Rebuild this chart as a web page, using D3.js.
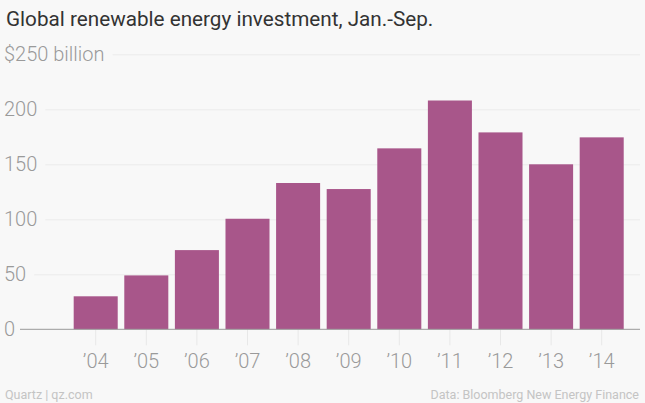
<!DOCTYPE html>
<html>
<head>
<meta charset="utf-8">
<script src="https://cdn.jsdelivr.net/npm/d3@7"></script>
<style>
  html, body { margin: 0; padding: 0; background: #f8f8f8; }
  svg { display: block; }
  text { font-family: Roboto, "Noto Sans", sans-serif; }
</style>
</head>
<body>
<script>
const years = ["’04","’05","’06","’07","’08","’09","’10","’11","’12","’13","’14"];
const investment = [30, 49, 72, 100.5, 133, 127.5, 164.5, 208, 179, 150, 174.5];
const yTicks = [0, 50, 100, 150, 200, 250];

const W = 645, H = 403;
const svg = d3.select("body").append("svg").attr("width", W).attr("height", H);
svg.append("rect").attr("width", W).attr("height", H).attr("fill", "#f8f8f8");

const y = d3.scaleLinear().domain([0, 250]).range([329.3, 54.3]);
const gap = 6.6;
const x = d3.scaleBand().domain(years)
  .range([73.7 - gap / 2, 623.7 + gap / 2])
  .paddingInner(0.13).paddingOuter(0.065);

// Title
svg.append("text").attr("x", 6).attr("y", 25.5)
  .attr("font-size", 20.7).attr("fill", "#333").text("Global renewable energy investment, Jan.-Sep.");

// Gridlines + y labels
const yAxis = d3.axisLeft(y).tickValues(yTicks).tickSize(0)
  .tickFormat(d => d === 250 ? "$250 billion" : d);
const gy = svg.append("g").call(yAxis);
gy.select(".domain").remove();
gy.selectAll(".tick text").attr("x", 4).attr("dy", "0.33em").attr("text-anchor", "start")
  .attr("font-size", 20).attr("font-weight", 300).attr("fill", "#9a9a9a")
  .style("font-family", "Roboto, sans-serif");
gy.selectAll(".tick").each(function(d) {
  const g = d3.select(this);
  const tw = g.select("text").node().getComputedTextLength();
  if (d !== 0) {
    g.append("line").attr("x1", 4 + tw + 8).attr("x2", 640).attr("y1", 0).attr("y2", 0)
      .attr("stroke", "#ebebeb").attr("stroke-width", 1);
  }
});

// X tick marks
const xAxis = d3.axisBottom(x).tickSize(16).tickPadding(14);
const gx = svg.append("g").attr("transform", `translate(0,${y(0)})`).call(xAxis);
gx.select(".domain").remove();
gx.selectAll(".tick line").attr("stroke", "#e8e8e8");
gx.selectAll(".tick text").attr("font-size", 20).attr("font-weight", 300).attr("fill", "#9a9a9a")
  .style("font-family", "Roboto, sans-serif").attr("dy", "0.71em").attr("y", 25);

// Bars
svg.append("g").selectAll("rect").data(investment).join("rect")
  .attr("x", (d, i) => x(years[i]))
  .attr("width", x.bandwidth())
  .attr("y", d => y(d))
  .attr("height", d => y(0) - y(d))
  .attr("fill", "#a8568a");

// Zero axis line
svg.append("line").attr("x1", 20).attr("x2", 640).attr("y1", y(0)).attr("y2", y(0))
  .attr("stroke", "#999").attr("stroke-width", 1);

// Footer
svg.append("text").attr("x", 5).attr("y", 399).attr("font-size", 12.5).attr("fill", "#c4c4c4")
  .text("Quartz | qz.com");
svg.append("text").attr("x", 639).attr("y", 399).attr("text-anchor", "end").attr("font-size", 12.5)
  .attr("fill", "#c4c4c4").text("Data: Bloomberg New Energy Finance");
</script>
</body>
</html>
